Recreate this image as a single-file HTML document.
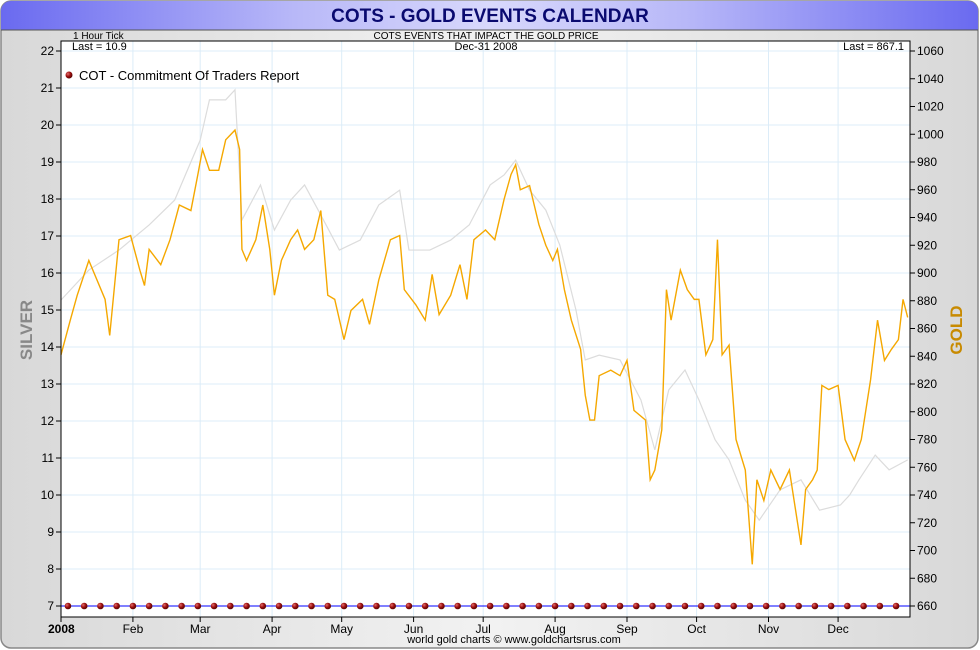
<!DOCTYPE html>
<html><head><meta charset="utf-8">
<style>
html,body{margin:0;padding:0;background:#fff;}
svg{display:block;font-family:"Liberation Sans",sans-serif;}
</style></head>
<body>
<svg id="chart" width="980" height="650" viewBox="0 0 980 650">
<defs>
<linearGradient id="tg" x1="0" x2="1" y1="0" y2="0">
<stop offset="0" stop-color="#6a6af0"/><stop offset="0.3" stop-color="#b8b8f8"/><stop offset="0.5" stop-color="#d8d8fc"/><stop offset="0.7" stop-color="#b8b8f8"/><stop offset="1" stop-color="#6a6af0"/></linearGradient>
<linearGradient id="bg" x1="0" x2="1" y1="0" y2="0">
<stop offset="0" stop-color="#d8d8d8"/><stop offset="0.5" stop-color="#f2f2f2"/><stop offset="1" stop-color="#d8d8d8"/></linearGradient>
<radialGradient id="dot" cx="0.35" cy="0.35" r="0.7"><stop offset="0" stop-color="#e07070"/><stop offset="0.5" stop-color="#a01010"/><stop offset="1" stop-color="#500000"/></radialGradient>
</defs>
<rect x="1" y="1" width="977" height="647" rx="10" fill="url(#bg)" stroke="#888" stroke-width="1.5"/>
<path d="M1,11 a10,10 0 0 1 10,-10 h957 a10,10 0 0 1 10,10 v19 h-977 z" fill="url(#tg)"/>
<line x1="1" y1="30" x2="978" y2="30" stroke="#555"/>
<text x="490" y="22" text-anchor="middle" font-size="19" font-weight="bold" fill="#0a0a70">COTS - GOLD EVENTS CALENDAR</text>
<text x="73" y="39" font-size="10" fill="#000">1 Hour Tick</text>
<text x="486" y="39" text-anchor="middle" font-size="10" fill="#000">COTS EVENTS THAT IMPACT THE GOLD PRICE</text>
<rect x="61" y="41" width="849" height="576" fill="#fff"/>
<g id="grid"></g>
<g id="lines"></g>
<rect x="61" y="41" width="849" height="576" fill="none" stroke="#000" stroke-width="1"/>
<g id="axes"></g>
<text x="72" y="50" font-size="11">Last = 10.9</text>
<text x="486" y="50" text-anchor="middle" font-size="11">Dec-31  2008</text>
<text x="904" y="50" text-anchor="end" font-size="11">Last = 867.1</text>
<circle cx="69" cy="75" r="3.5" fill="url(#dot)"/>
<text x="79" y="80" font-size="13">COT - Commitment Of Traders Report</text>
<text x="32" y="330" font-size="17" font-weight="bold" fill="#888" text-anchor="middle" transform="rotate(-90 32 330)">SILVER</text>
<text x="962" y="330" font-size="17" font-weight="bold" fill="#c88a00" text-anchor="middle" transform="rotate(-90 962 330)">GOLD</text>
<text x="514" y="643" text-anchor="middle" font-size="11">world gold charts © www.goldchartsrus.com</text>
</svg>
<script>
const monthLabels=["2008","Feb","Mar","Apr","May","Jun","Jul","Aug","Sep","Oct","Nov","Dec"];
const monthStartDays=[0,31,60,91,121,152,182,213,244,274,305,335];
const silverTicks=[7,8,9,10,11,12,13,14,15,16,17,18,19,20,21,22];
const goldTicks=[660,680,700,720,740,760,780,800,820,840,860,880,900,920,940,960,980,1000,1020,1040,1060];
const goldDays=[0,4,7,12,19,21,25,30,34,36,38,43,47,51,56,59,61,64,68,71,75,77,78,80,84,87,90,92,95,99,102,105,109,112,115,118,122,125,130,133,137,142,146,148,153,157,160,163,168,172,175,178,183,187,191,194,196,198,202,206,209,212,214,217,220,224,226,228,230,232,237,241,244,247,252,254,256,259,261,263,267,270,273,275,278,281,283,285,288,291,295,298,300,303,306,310,314,319,321,324,326,328,331,335,338,342,345,349,352,355,358,361,363,365];
const goldValues=[841,866,884,909,881,855,924,927,902,891,917,906,924,949,945,971,989,974,974,996,1003,989,917,909,924,949,917,884,909,924,931,917,924,945,884,881,852,873,881,863,895,924,927,888,877,866,899,870,884,906,881,924,931,924,953,971,978,960,963,935,920,909,917,888,866,845,812,794,794,826,830,826,837,801,794,751,758,787,888,866,902,888,881,881,841,852,924,841,848,780,758,690,751,736,758,744,758,704,744,751,758,819,816,819,780,765,780,823,866,837,845,852,881,868];
const silverDays=[0,12,25,38,49,60,64,71,75,78,86,92,99,105,112,120,129,137,146,150,159,168,176,185,191,196,202,209,215,222,226,232,241,250,256,262,269,275,282,288,295,301,310,319,327,336,340,344,351,357,365];
const silverValues=[15.27,16.08,16.62,17.3,17.97,19.59,20.68,20.68,20.95,17.43,18.38,17.16,17.97,18.38,17.57,16.62,16.89,17.84,18.24,16.62,16.62,16.89,17.3,18.38,18.65,19.05,18.24,17.7,16.76,15.0,13.65,13.78,13.65,12.57,11.22,12.84,13.38,12.57,11.49,10.95,9.86,9.32,10.14,10.41,9.59,9.73,10.0,10.41,11.08,10.68,10.95];
const cotDays=[];for(let d=3;d<=363;d+=7)cotDays.push(d);
const cotValue=7;

const NS="http://www.w3.org/2000/svg";
const X0=61,X1=910,Y22=51,Y7=606;
const xs=d=>X0+d*(X1-X0)/366;
const ys=v=>Y7-(v-7)*(Y7-Y22)/15;
const yg=v=>Y7-(v-660)*(Y7-Y22)/400;
function mk(tag,attrs,parent){const e=document.createElementNS(NS,tag);for(const k in attrs)e.setAttribute(k,attrs[k]);parent.appendChild(e);return e;}
const grid=document.getElementById('grid'),lines=document.getElementById('lines'),axes=document.getElementById('axes');
silverTicks.forEach(v=>{
 const g=mk('line',{x1:X0,x2:X1,y1:ys(v),y2:ys(v),stroke:'#dcecf8','stroke-width':1},grid);
 
 
 const t=mk('line',{x1:X0-5,x2:X0,y1:ys(v),y2:ys(v),stroke:'#000'},axes);
 
 
 const l=mk('text',{x:X0-7,y:ys(v)+4,'text-anchor':'end','font-size':12},axes);l.textContent=v;
 
 
});
goldTicks.forEach(v=>{
 const t=mk('line',{x1:X1,x2:X1+5,y1:yg(v),y2:yg(v),stroke:'#000'},axes);
 
 
 const l=mk('text',{x:X1+7,y:yg(v)+4,'font-size':12},axes);l.textContent=v;
 
 
});
monthStartDays.forEach((d,i)=>{
 const x=xs(d);
 if(i>0){const g=mk('line',{x1:x,x2:x,y1:41,y2:617,stroke:'#dcecf8'},grid);
 
 }
 const t=mk('line',{x1:x,x2:x,y1:617,y2:622,stroke:'#000'},axes);
 
 
 const l=mk('text',{x:i==0?x-13:x,y:633,'text-anchor':i==0?'start':'middle','font-size':12,'font-weight':i==0?'bold':'normal'},axes);l.textContent=monthLabels[i];
 
 
});
const sp=mk('polyline',{points:silverDays.map((d,i)=>xs(d)+','+ys(silverValues[i])).join(' '),fill:'none',stroke:'#dcdcdc','stroke-width':1.2},lines);


const gp=mk('polyline',{points:goldDays.map((d,i)=>xs(d)+','+yg(goldValues[i])).join(' '),fill:'none',stroke:'#f5a800','stroke-width':1.4},lines);


const cl=mk('line',{x1:X0,x2:X1,y1:ys(cotValue),y2:ys(cotValue),stroke:'#0000ff','stroke-width':1},lines);


cotDays.forEach(d=>{
 const c=mk('circle',{cx:xs(d),cy:ys(cotValue),r:3.3,fill:'url(#dot)'},lines);
 
 
});
</script>
</body></html>
